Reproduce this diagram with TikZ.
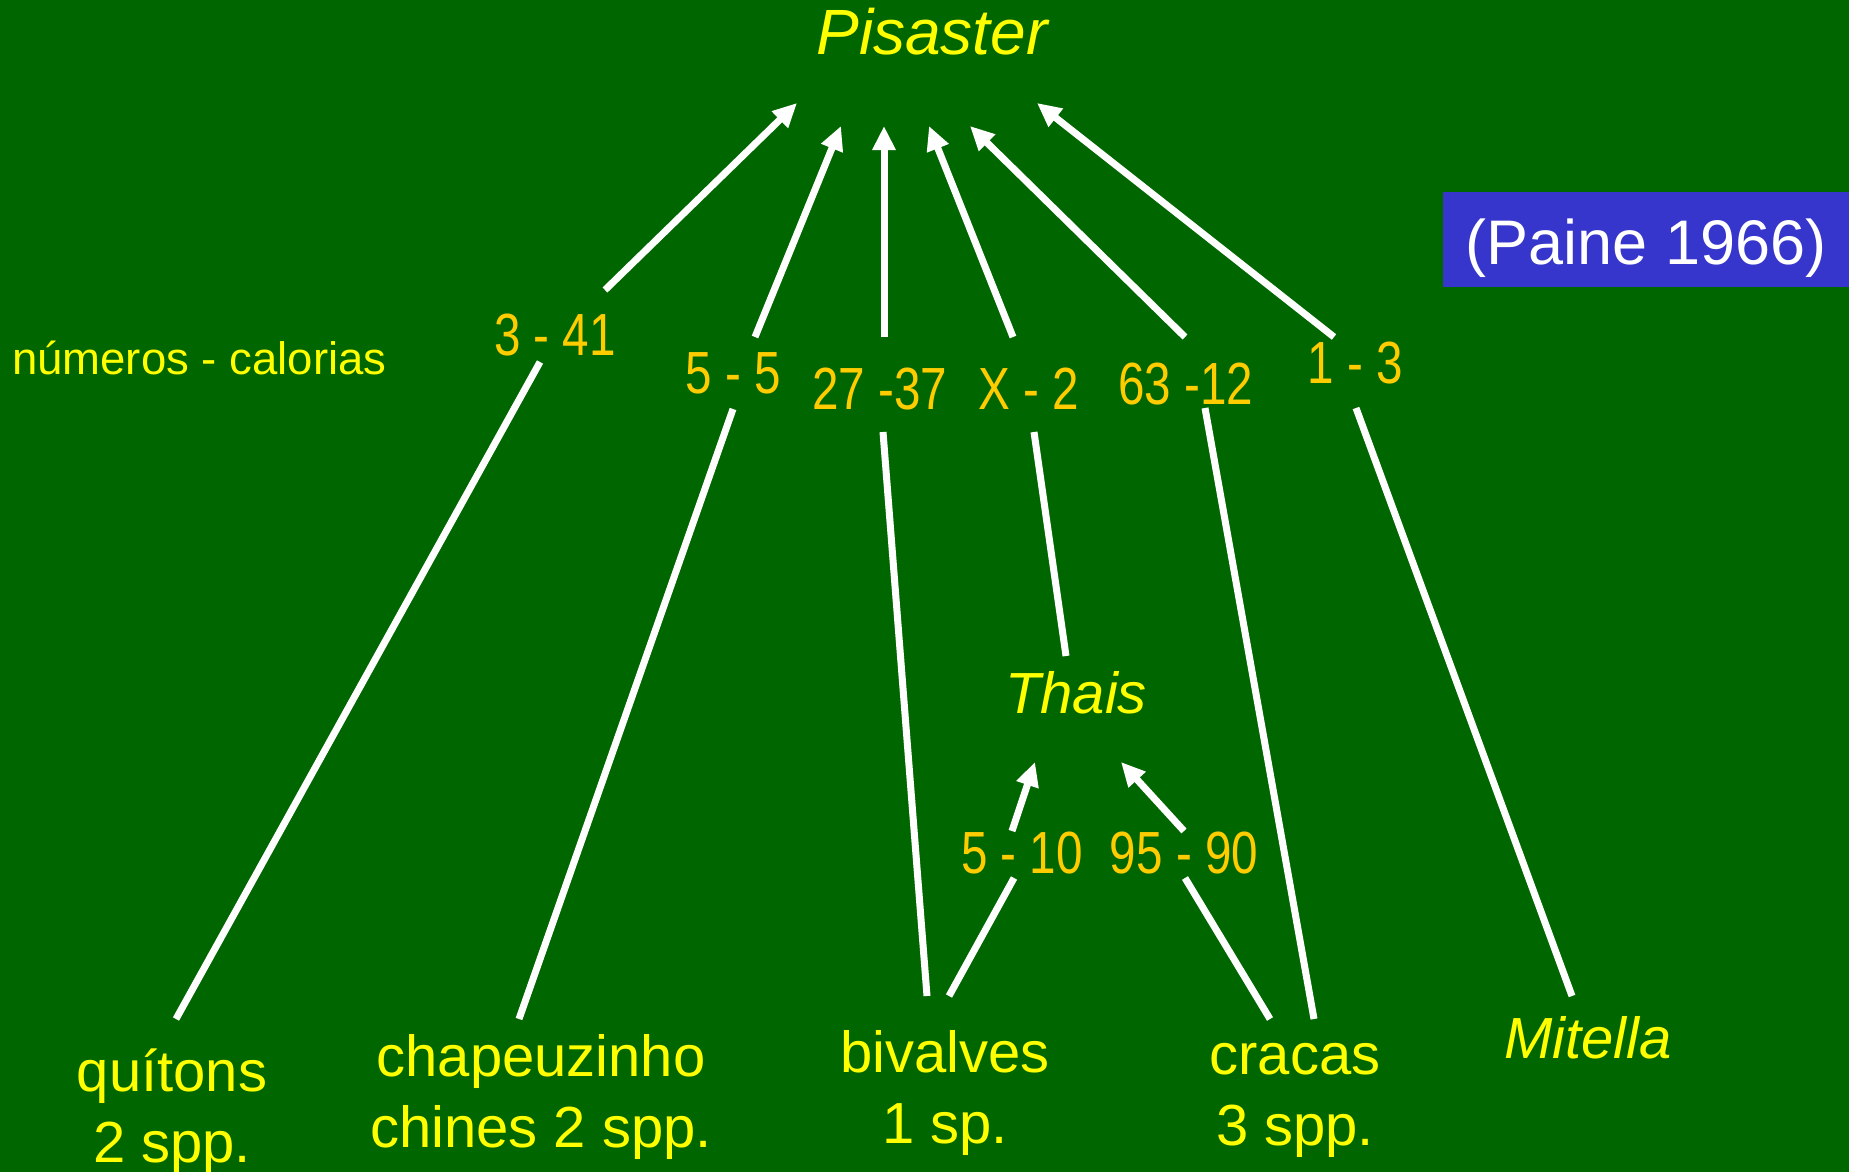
\documentclass[tikz,border=0pt]{standalone}
\usepackage{fontspec}
\setmainfont{Liberation Sans}
\newfontfamily\narrowfont[FakeStretch=0.8]{Liberation Sans}
\usetikzlibrary{arrows.meta}
\definecolor{bg}{HTML}{006600}
\definecolor{ylw}{HTML}{FFFF00}
\definecolor{org}{HTML}{FFCC00}
\definecolor{blu}{HTML}{3636CC}
\begin{document}
\begin{tikzpicture}[x=1pt,y=-1pt,
  lbl/.style={inner sep=0pt, text=ylw, font=\fontsize{58}{71}\selectfont, align=center, anchor=base},
  ital/.style={lbl, font=\fontsize{58}{71}\selectfont\itshape},
  num/.style={inner sep=0pt, text=org, font=\narrowfont\fontsize{59.5}{60}\selectfont, anchor=base},
  link/.style={draw=white, line width=7pt},
  arr/.style={link, -{Triangle[length=24pt,width=22pt]}}]
\fill[bg] (0,0) rectangle (1849,1172);
\useasboundingbox (0,0) rectangle (1849,1172);

% species nodes
\node[ital, font=\fontsize{64}{70}\selectfont\itshape] (pis) at (932,55) {Pisaster};
\node[ital] (thais) at (1076,713) {Thais};
\node[ital] (mit) at (1588,1058) {Mitella};
\node[lbl] (qui) at (172,1162) {quítons\\2 spp.};
\node[lbl] (cha) at (541,1147) {chapeuzinho\\chines 2 spp.};
\node[lbl] (biv) at (945,1143) {bivalves\\1 sp.};
\node[lbl] (cra) at (1295,1145) {cracas\\3 spp.};

% legend and reference
\node[inner sep=0pt, text=ylw, font=\fontsize{45.5}{50}\selectfont, anchor=base west] (leg) at (12,374) {números - calorias};
\node[fill=blu, inner sep=0pt, minimum width=406pt, minimum height=95pt, anchor=north west] (box) at (1443,192) {};
\node[inner sep=0pt, text=white, font=\fontsize{63}{66}\selectfont, anchor=base] (paine) at (1646,264) {(Paine 1966)};

% number labels
\node[num] (n1) at (555,355) {3 - 41};
\node[num] (n2) at (733,393) {5 - 5};
\node[num] (n3) at (880,409) {27 -37};
\node[num] (n4) at (1029,409) {X - 2};
\node[num] (n5) at (1186,404) {63 -12};
\node[num] (n6) at (1355,383) {1 - 3};
\node[num] (n7) at (1022,873) {5 - 10};
\node[num] (n8) at (1184,873) {95 - 90};

% connector end points
\coordinate (pis1) at (797,103);
\coordinate (pis2) at (841,126);
\coordinate (pis3) at (884,126);
\coordinate (pis4) at (929,126);
\coordinate (pis5) at (970,126);
\coordinate (pis6) at (1037,103);
\coordinate (n1t) at (605,290);
\coordinate (n2t) at (755,337);
\coordinate (n3t) at (884,337);
\coordinate (n4t) at (1013,337);
\coordinate (n5t) at (1185,337);
\coordinate (n6t) at (1334,337);
\coordinate (n1b) at (540,362);
\coordinate (n2b) at (733,409);
\coordinate (n3b) at (883,432);
\coordinate (n4b) at (1034,432);
\coordinate (n5b) at (1205,408);
\coordinate (n6b) at (1356,408);
\coordinate (quit) at (176,1019);
\coordinate (chat) at (519,1019);
\coordinate (biv1) at (927,996);
\coordinate (biv2) at (949,996);
\coordinate (thb) at (1066,656);
\coordinate (cra1) at (1270,1019);
\coordinate (cra2) at (1314,1019);
\coordinate (mitt) at (1572,996);
\coordinate (n7b) at (1014,878);
\coordinate (n7t) at (1012,831);
\coordinate (n8b) at (1185,878);
\coordinate (n8t) at (1184,831);
\coordinate (th1) at (1035,762);
\coordinate (th2) at (1121,762);

% arrows to Pisaster
\draw[arr] (n1t) -- (pis1);
\draw[arr] (n2t) -- (pis2);
\draw[arr] (n3t) -- (pis3);
\draw[arr] (n4t) -- (pis4);
\draw[arr] (n5t) -- (pis5);
\draw[arr] (n6t) -- (pis6);

% lines from prey to numbers
\draw[link] (quit) -- (n1b);
\draw[link] (chat) -- (n2b);
\draw[link] (biv1) -- (n3b);
\draw[link] (thb) -- (n4b);
\draw[link] (cra2) -- (n5b);
\draw[link] (mitt) -- (n6b);

% Thais links
\draw[link] (biv2) -- (n7b);
\draw[arr] (n7t) -- (th1);
\draw[link] (cra1) -- (n8b);
\draw[arr] (n8t) -- (th2);
\end{tikzpicture}
\end{document}
